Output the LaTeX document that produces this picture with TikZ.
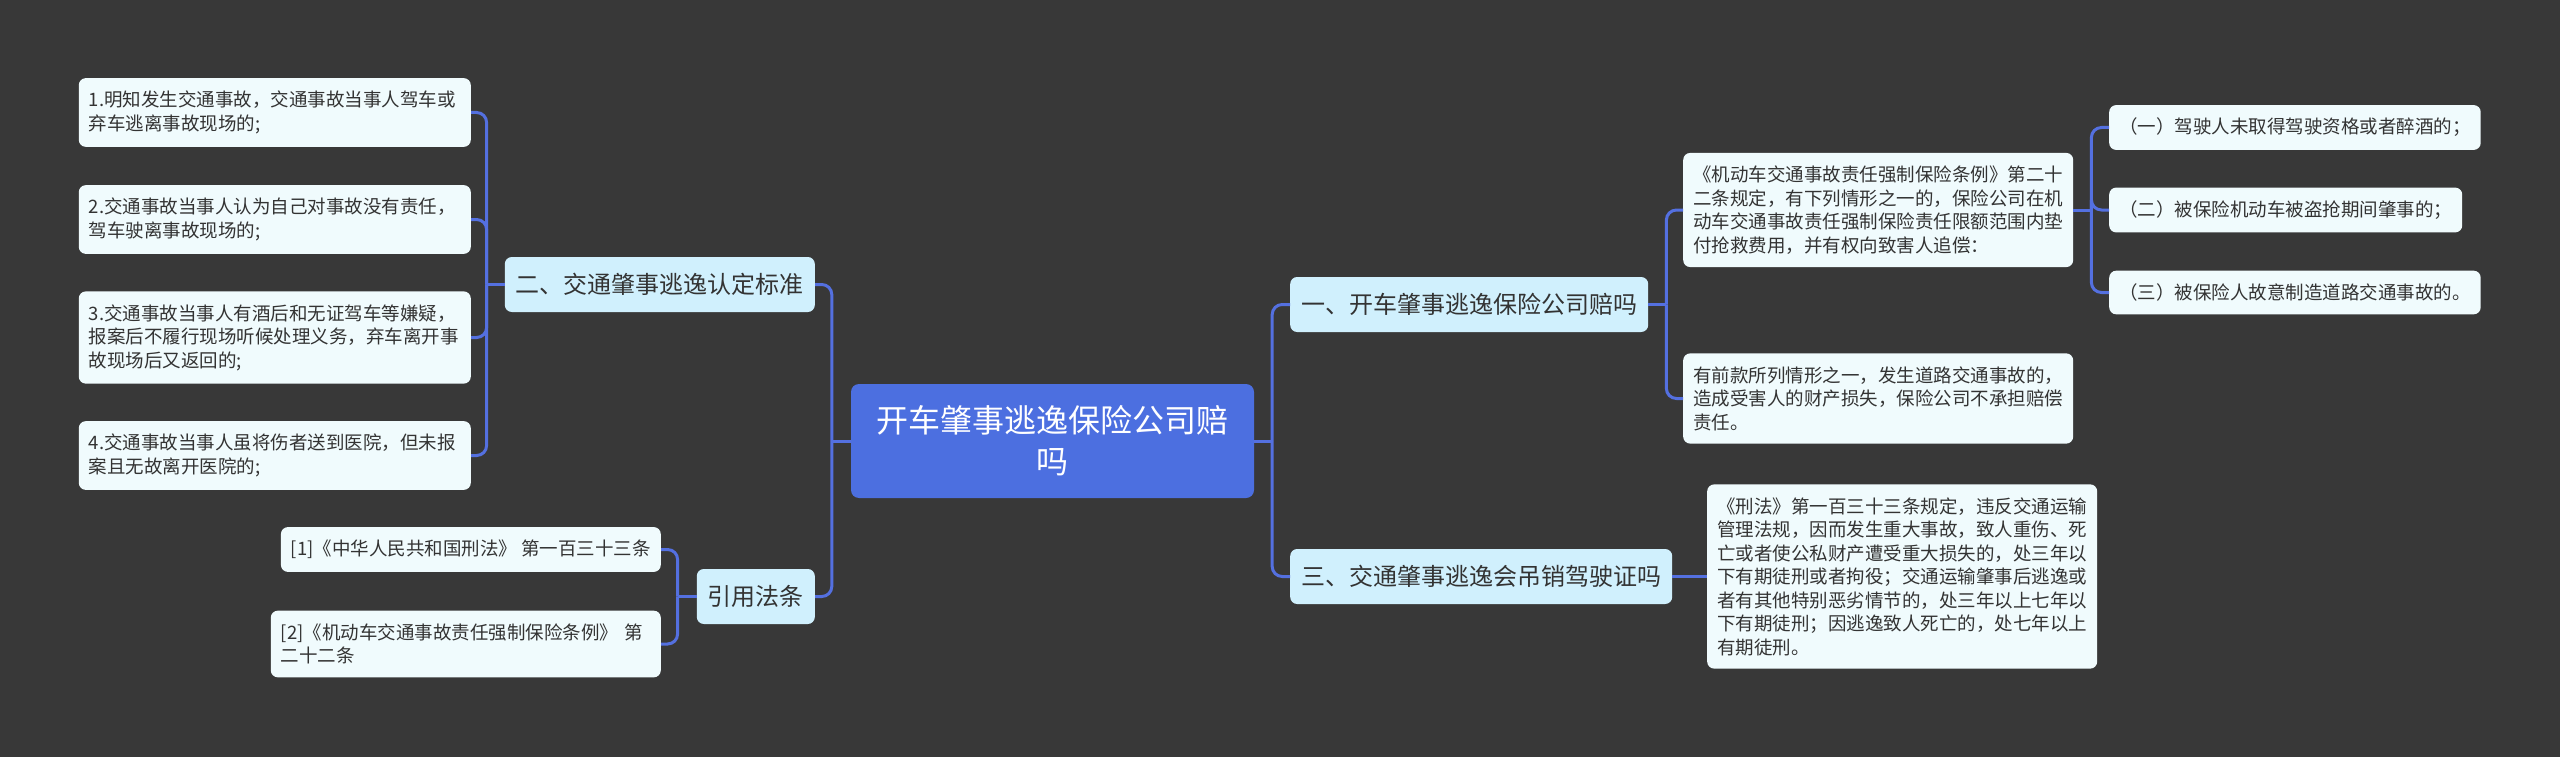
\documentclass[tikz,border=0pt]{standalone}
\usepackage{fontspec}
\setmainfont{Noto Sans CJK SC}
\usepackage{xcolor}
\usetikzlibrary{positioning}

\definecolor{bg}{HTML}{383838}
\definecolor{rootblue}{HTML}{4C6FE0}
\definecolor{topicblue}{HTML}{D0F0FD}
\definecolor{leafwhite}{HTML}{F0FBFD}
\definecolor{linkblue}{HTML}{5470E0}
\definecolor{ink}{HTML}{333333}

\begin{document}
\begin{tikzpicture}[
  x=1pt, y=-1pt,
  root/.style={fill=rootblue,text=white,rounded corners=8pt,minimum width=403pt,minimum height=114pt,align=center,font=\fontsize{32}{41}\selectfont},
  topic/.style={fill=topicblue,text=ink,rounded corners=7pt,inner xsep=11pt,minimum height=55pt,font=\fontsize{24}{28}\selectfont},
  leaf/.style={fill=leafwhite,text=ink,rounded corners=7pt,inner xsep=10pt,inner ysep=13pt,align=left,font=\fontsize{18.5}{23.5}\selectfont},
  link/.style={draw=linkblue,line width=3pt,rounded corners=10pt},
]
\fill[bg] (0,0) rectangle (2560,757);
\useasboundingbox (0,0) rectangle (2560,757);

% centre
\node[root] (root) at (1052.5,441) {开车肇事逃逸保险公司赔\\吗};

% left side
\node[topic, anchor=east] (t2) at (815,284.5) {二、交通肇事逃逸认定标准};
\node[topic, anchor=east] (t4) at (815,596.5) {引用法条};

\node[leaf, anchor=east, text width=372pt] (l1) at (471,112.5) {1.明知发生交通事故，交通事故当事人驾车或\\弃车逃离事故现场的;};
\node[leaf, anchor=east, text width=372pt] (l2) at (471,219.5) {2.交通事故当事人认为自己对事故没有责任，\\驾车驶离事故现场的;};
\node[leaf, anchor=east, text width=372pt] (l3) at (471,337.5) {3.交通事故当事人有酒后和无证驾车等嫌疑，\\报案后不履行现场听候处理义务，弃车离开事\\故现场后又返回的;};
\node[leaf, anchor=east, text width=372pt] (l4) at (471,455.5) {4.交通事故当事人虽将伤者送到医院，但未报\\案且无故离开医院的;};

\node[leaf, anchor=east] (r1) at (661,549.5) {[1]《中华人民共和国刑法》 第一百三十三条};
\node[leaf, anchor=east, text width=370pt] (r2) at (661,644) {[2]《机动车交通事故责任强制保险条例》 第\\二十二条};

% right side
\node[topic, anchor=west] (t1) at (1290,304.5) {一、开车肇事逃逸保险公司赔吗};
\node[topic, anchor=west] (t3) at (1290,576.5) {三、交通肇事逃逸会吊销驾驶证吗};

\node[leaf, anchor=west] (la) at (1683,210) {《机动车交通事故责任强制保险条例》第二十\\二条规定，有下列情形之一的，保险公司在机\\动车交通事故责任强制保险责任限额范围内垫\\付抢救费用，并有权向致害人追偿：};
\node[leaf, anchor=west] (lb) at (1683,398.5) {有前款所列情形之一，发生道路交通事故的，\\造成受害人的财产损失，保险公司不承担赔偿\\责任。};

\node[leaf, anchor=west] (s1) at (2109,127.5) {（一）驾驶人未取得驾驶资格或者醉酒的；};
\node[leaf, anchor=west] (s2) at (2109,210) {（二）被保险机动车被盗抢期间肇事的；};
\node[leaf, anchor=west] (s3) at (2109,292.5) {（三）被保险人故意制造道路交通事故的。};

\node[leaf, anchor=west] (lc) at (1707,576.5) {《刑法》第一百三十三条规定，违反交通运输\\管理法规，因而发生重大事故，致人重伤、死\\亡或者使公私财产遭受重大损失的，处三年以\\下有期徒刑或者拘役；交通运输肇事后逃逸或\\者有其他特别恶劣情节的，处三年以上七年以\\下有期徒刑；因逃逸致人死亡的，处七年以上\\有期徒刑。};

% connectors, left
\draw[link] (root.west) -- ++(-19,0) coordinate (rl);
\draw[link] (rl) |- (t2.east);
\draw[link] (rl) |- (t4.east);

\draw[link] (t2.west) -- ++(-18,0) coordinate (t2l);
\foreach \n in {l1,l2,l3,l4}
  \draw[link] (t2l) |- (\n.east);

\draw[link] (t4.west) -- ++(-19,0) coordinate (t4l);
\draw[link] (t4l) |- (r1.east);
\draw[link] (t4l) |- (r2.east);

% connectors, right
\draw[link] (root.east) -- ++(18,0) coordinate (rr);
\draw[link] (rr) |- (t1.west);
\draw[link] (rr) |- (t3.west);

\draw[link] (t1.east) -- ++(18,0) coordinate (t1r);
\draw[link] (t1r) |- (la.west);
\draw[link] (t1r) |- (lb.west);

\draw[link] (la.east) -- ++(18,0) coordinate (lar);
\foreach \n in {s1,s2,s3}
  \draw[link] (lar) |- (\n.west);

\draw[link] (t3.east) -- (lc.west);
\end{tikzpicture}
\end{document}
